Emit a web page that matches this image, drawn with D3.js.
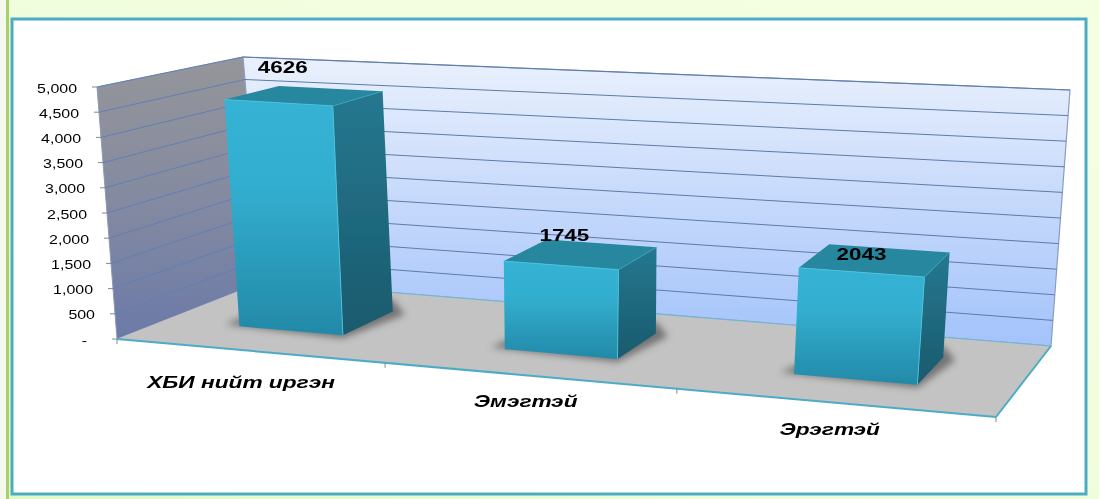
<!DOCTYPE html>
<html><head><meta charset="utf-8">
<script src="https://cdn.jsdelivr.net/npm/d3@7"></script>
<style>html,body{margin:0;padding:0;background:#fff;overflow:hidden}svg{display:block}
text{font-family:"Liberation Sans",Arial,sans-serif;fill:#000}</style></head>
<body><svg id="c" width="1099" height="499"></svg>
<script>
const categories = ["ХБИ нийт иргэн", "Эмэгтэй", "Эрэгтэй"];
const values = [4626, 1745, 2043];
const axisTicks = [0, 500, 1000, 1500, 2000, 2500, 3000, 3500, 4000, 4500, 5000];
const categoryBoundaries = [0, 1, 2, 3];

const svg = d3.select("#c");
const W = 1099, H = 499;

// Projected corners of the 3D plot box
const floorFL=[117,339], floorFR=[996,417], floorBL=[262,282], floorBR=[1051,346];
const topFL=[97,87], topFR=[1020,145], topBL=[243,57], topBR=[1070,90];

const lerp=(a,b,t)=>[a[0]+(b[0]-a[0])*t,a[1]+(b[1]-a[1])*t];
const uScale=d3.scaleLinear().domain(categoryBoundaries).range([0,.305,.637,1]);
const hScale=d3.scaleLinear().domain([0,5000]).range([0,1]);
function P(u,v,val){
  const f=lerp(lerp(floorFL,floorFR,u),lerp(floorBL,floorBR,u),v);
  const t=lerp(lerp(topFL,topFR,u),lerp(topBL,topBR,u),v);
  return lerp(f,t,hScale(val));
}
const path=pts=>"M"+pts.map(p=>p[0].toFixed(1)+","+p[1].toFixed(1)).join("L")+"Z";
const line=(a,b)=>`M${a[0].toFixed(1)},${a[1].toFixed(1)}L${b[0].toFixed(1)},${b[1].toFixed(1)}`;

const defs=svg.append("defs");
function grad(id,stops,x2=0,y2=1,x1=0,y1=0){
  const g=defs.append("linearGradient").attr("id",id).attr("x1",x1).attr("y1",y1).attr("x2",x2).attr("y2",y2);
  stops.forEach(s=>g.append("stop").attr("offset",s[0]).attr("stop-color",s[1]));
}
grad("pg",[[0,"#f4ffe2"],[.6,"#f0fddc"],[1,"#e2f9c6"]],0,1,1,0);
grad("lw",[[0,"#95969a"],[.5,"#848aa0"],[1,"#6c7aa8"]]);
grad("bw",[[0,"#eaf1fd"],[.5,"#c6d9fb"],[1,"#a3c3fb"]]);
grad("fr",[[0,"#34b2d4"],[.35,"#33afd0"],[1,"#2389a8"]]);
grad("sd",[[0,"#25788f"],[1,"#1a5a6e"]]);
defs.append("filter").attr("id","bl").attr("x","-30%").attr("y","-60%").attr("width","160%").attr("height","220%")
  .append("feGaussianBlur").attr("stdDeviation",3.5);
defs.append("filter").attr("id","soft").attr("x","-5%").attr("y","-20%").attr("width","110%").attr("height","140%")
  .append("feGaussianBlur").attr("stdDeviation",.45);

// Page
svg.append("rect").attr("width",W).attr("height",H).attr("fill","url(#pg)");
svg.append("rect").attr("x",0).attr("width",6).attr("height",H).attr("fill","#f5f8ee");
svg.append("rect").attr("x",6).attr("width",3).attr("height",H).attr("fill","#a9d06c");
svg.append("rect").attr("x",12).attr("y",19).attr("width",1074).attr("height",475)
  .attr("fill","#fff").attr("stroke","#4cacc6").attr("stroke-width",3);

const g=svg.append("g");

// Walls and floor
g.append("path").attr("d",path([topFL,topBL,floorBL,floorFL])).attr("fill","url(#lw)").attr("stroke","#8d9ab8").attr("stroke-width",1);
g.append("path").attr("d",path([topBL,topBR,floorBR,floorBL])).attr("fill","url(#bw)").attr("stroke","#8a9cc0").attr("stroke-width",1.2);
g.append("path").attr("d",path([floorFL,floorFR,floorBR,floorBL])).attr("fill","#c3c3c3");
g.append("path").attr("d",line(floorBL,floorBR)).attr("stroke","#6fb8d0").attr("stroke-width",1).attr("fill","none");

// Gridlines
g.selectAll(".gb").data(axisTicks.filter(d=>d>0)).join("path").attr("class","gb")
  .attr("d",d=>line(P(0,1,d),P(1,1,d))).attr("stroke","#5d7ca6").attr("stroke-width",1).attr("fill","none");
g.selectAll(".gl").data(axisTicks.filter(d=>d>0)).join("path").attr("class","gl")
  .attr("d",d=>line(P(0,0,d),P(0,1,d))).attr("stroke","#5f80b6").attr("stroke-width",1).attr("fill","none");

// Floor front edges
g.append("path").attr("d",line(floorFL,floorFR)).attr("stroke","#4cacc6").attr("stroke-width",2).attr("fill","none");
g.append("path").attr("d",line(floorFR,floorBR)).attr("stroke","#4cacc6").attr("stroke-width",2).attr("fill","none");

// Axis ticks and labels
g.selectAll(".ty").data(axisTicks).join("path").attr("class","ty")
  .attr("d",d=>{const p=P(0,0,d);return line([p[0]-5,p[1]],p);}).attr("stroke","#888").attr("stroke-width",1);
g.selectAll(".tx").data(categoryBoundaries).join("path").attr("class","tx")
  .attr("d",d=>{const p=P(uScale(d),0,0);return line(p,[p[0],p[1]+5]);}).attr("stroke","#888").attr("stroke-width",1);
const fmt=d3.format(",");
const textG=svg.append("g").attr("filter","url(#soft)");
textG.selectAll(".yl").data(axisTicks).join("text").attr("class","yl")
  .attr("transform",d=>{const p=P(0,0,d);return `translate(${p[0]-(d===0?30:20)},${p[1]+5.5}) scale(1.33,1)`;})
  .attr("text-anchor","end").attr("font-size",12).attr("fill","#111")
  .text(d=>d===0?"-":fmt(d));

// Bars
const barIn=[.285,.685], barV=[.335,.73];
const barG=svg.append("g");
values.forEach((val,i)=>{
  const u0=uScale(i+barIn[0]), u1=uScale(i+barIn[1]);
  const v0=barV[0], v1=barV[1];
  const fb0=P(u0,v0,0),fb1=P(u1,v0,0),bb1=P(u1,v1,0);
  const ft0=P(u0,v0,val),ft1=P(u1,v0,val),bt1=P(u1,v1,val),bt0=P(u0,v1,val);
  barG.append("path").attr("d",path([[fb0[0]-14,fb0[1]-2],[fb1[0],fb1[1]+3],[bb1[0]+12,bb1[1]+3],[bb1[0],bb1[1]-12],[fb0[0]+10,fb0[1]-12]]))
    .attr("fill","#4a4a4a").attr("opacity",.65).attr("filter","url(#bl)");
  const s=barG.append("g").attr("filter","url(#soft)");
  s.append("path").attr("d",path([fb1,bb1,bt1,ft1])).attr("fill","url(#sd)");
  s.append("path").attr("d",path([ft0,ft1,bt1,bt0])).attr("fill","#27879f");
  s.append("path").attr("d",path([fb0,fb1,ft1,ft0])).attr("fill","url(#fr)");
  s.append("path").attr("d",line(ft0,ft1)+line(ft1,fb1)).attr("stroke","#4dc0dc").attr("stroke-width",1).attr("fill","none");
  s.append("path").attr("d",line(ft1,bt1)).attr("stroke","#3aa0bb").attr("stroke-width",1).attr("fill","none");
});

// Value labels
const valueOffsets=[[-22,-23],[-17,-13],[-14,0]];
const labelG=svg.append("g").attr("filter","url(#soft)");
labelG.selectAll(".vl").data(values).join("text").attr("class","vl")
  .attr("transform",(d,i)=>{
    const p=P(uScale(i+.485),(barV[0]+barV[1])/2,d);
    return `translate(${p[0]+valueOffsets[i][0]},${p[1]+valueOffsets[i][1]}) scale(1.4,1)`;
  }).attr("text-anchor","middle").attr("font-size",16).attr("font-weight","bold").text(d=>d);

// Category labels
const catOffsets=[[-6,37],[-1,32],[-2,33]];
labelG.selectAll(".cl").data(categories).join("text").attr("class","cl")
  .attr("transform",(d,i)=>{
    const p=P(uScale(i+.485),0,0);
    return `translate(${p[0]+catOffsets[i][0]},${p[1]+catOffsets[i][1]}) scale(1.42,1)`;
  }).attr("text-anchor","middle").attr("font-size",16).attr("font-weight","bold").attr("font-style","italic").text(d=>d);
</script></body></html>
